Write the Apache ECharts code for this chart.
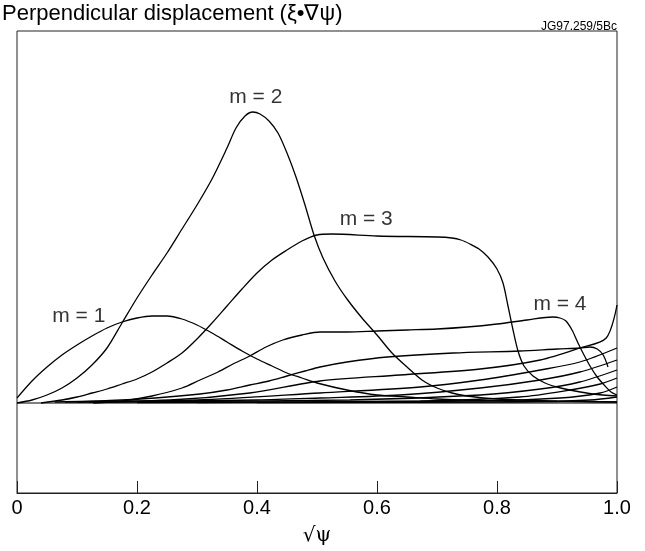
<!DOCTYPE html>
<html>
<head>
<meta charset="utf-8">
<script src="https://cdn.jsdelivr.net/npm/echarts@6/dist/echarts.min.js"></script>
<style>
  html, body { margin: 0; padding: 0; background: #fff; }
  #chart { width: 645px; height: 551px; }
</style>
</head>
<body>
<div id="chart"></div>
<script>
// Poloidal harmonics of the perpendicular displacement vs sqrt(psi)
const m1 = [[0,0.05],[0.025,0.22],[0.05,0.36],[0.075,0.48],[0.1,0.58],[0.125,0.67],[0.15,0.75],[0.175,0.81],[0.2,0.85],[0.225,0.87],[0.25,0.87],[0.275,0.84],[0.3,0.78],[0.325,0.70],[0.35,0.61],[0.375,0.52],[0.4,0.44],[0.425,0.37],[0.45,0.30],[0.475,0.25],[0.5,0.20],[0.55,0.13],[0.6,0.08],[0.65,0.06],[0.7,0.04],[0.8,0.02],[0.9,0.015],[1.0,0.01]];
const m2 = [[0,0],[0.025,0.03],[0.05,0.08],[0.075,0.15],[0.1,0.25],[0.125,0.38],[0.15,0.55],[0.175,0.80],[0.2,1.05],[0.225,1.28],[0.25,1.50],[0.275,1.74],[0.3,1.98],[0.325,2.24],[0.35,2.55],[0.365,2.75],[0.38,2.87],[0.393,2.91],[0.405,2.89],[0.42,2.82],[0.435,2.70],[0.45,2.50],[0.465,2.26],[0.48,1.98],[0.495,1.68],[0.51,1.45],[0.53,1.22],[0.55,1.04],[0.575,0.85],[0.6,0.68],[0.625,0.50],[0.65,0.36],[0.675,0.23],[0.7,0.15],[0.725,0.10],[0.75,0.07],[0.8,0.04],[0.9,0.02],[1.0,0.01]];
const m3 = [[0.04,0],[0.075,0.03],[0.1,0.06],[0.125,0.10],[0.15,0.14],[0.175,0.19],[0.2,0.24],[0.225,0.31],[0.25,0.40],[0.275,0.50],[0.3,0.64],[0.325,0.80],[0.35,0.97],[0.375,1.14],[0.4,1.30],[0.425,1.43],[0.45,1.53],[0.475,1.62],[0.5,1.68],[0.525,1.69],[0.6,1.67],[0.7,1.66],[0.725,1.65],[0.74,1.63],[0.755,1.59],[0.77,1.54],[0.785,1.46],[0.8,1.34],[0.81,1.20],[0.818,0.98],[0.826,0.75],[0.835,0.52],[0.845,0.37],[0.86,0.27],[0.88,0.20],[0.9,0.16],[0.93,0.12],[0.96,0.09],[1.0,0.07]];
const m4 = [[0.127,0],[0.175,0.02],[0.225,0.07],[0.275,0.15],[0.305,0.23],[0.335,0.31],[0.36,0.39],[0.388,0.47],[0.415,0.56],[0.443,0.63],[0.475,0.68],[0.505,0.71],[0.55,0.71],[0.6,0.72],[0.65,0.73],[0.7,0.74],[0.75,0.76],[0.8,0.79],[0.85,0.83],[0.893,0.86],[0.905,0.85],[0.915,0.82],[0.925,0.73],[0.935,0.60],[0.945,0.48],[0.955,0.37],[0.967,0.26],[0.98,0.17],[0.99,0.11],[1.0,0.08]];
const m5 = [[0.063,0.01],[0.155,0.025],[0.23,0.05],[0.305,0.09],[0.35,0.13],[0.388,0.18],[0.42,0.22],[0.45,0.27],[0.48,0.32],[0.505,0.36],[0.55,0.41],[0.617,0.46],[0.727,0.50],[0.838,0.52],[0.9,0.54],[0.938,0.55],[0.955,0.56],[0.967,0.54],[0.977,0.48],[0.985,0.36]];
const m6 = [[0.08,0.01],[0.255,0.03],[0.388,0.10],[0.505,0.22],[0.638,0.28],[0.772,0.34],[0.872,0.43],[0.938,0.55],[0.982,0.65],[1.0,0.98]];
const m7 = [[0.1,0.01],[0.3,0.03],[0.505,0.10],[0.672,0.16],[0.772,0.23],[0.872,0.33],[0.938,0.41],[1.0,0.55]];
const m8 = [[0.12,0.01],[0.4,0.03],[0.505,0.05],[0.638,0.08],[0.772,0.15],[0.872,0.23],[0.938,0.31],[1.0,0.43]];
const m9 = [[0.15,0.01],[0.555,0.03],[0.772,0.08],[0.872,0.14],[0.938,0.21],[1.0,0.33]];
const m10 = [[0.2,0.005],[0.672,0.02],[0.838,0.06],[0.922,0.13],[0.972,0.19],[1.0,0.25]];
const m11 = [[0.3,0.005],[0.772,0.02],[0.905,0.05],[0.972,0.10],[1.0,0.16]];
const m12 = [[0.4,0.005],[0.838,0.01],[0.955,0.03],[1.0,0.06]];
const zeroLine = [[0,0],[1,0]];

const harmonics = [m1, m2, m3, m4, m5, m6, m7, m8, m9, m10, m11, m12];

// Harmonic labels, anchored in data coordinates
const labelText = ['m = 1', 'm = 2', 'm = 3', 'm = 4'];
const labelAt = [[0.103,0.87],[0.398,3.06],[0.582,1.84],[0.905,0.99]];

const xTickLabels = ['0', '0.2', '0.4', '0.6', '0.8', '1.0'];

const chart = echarts.init(document.getElementById('chart'), null, { renderer: 'canvas' });

const lineSeries = harmonics.map((d, i) => ({
  name: 'm' + (i + 1),
  type: 'line',
  data: d,
  smooth: 0.3,
  symbol: 'none',
  silent: true,
  lineStyle: { color: '#000', width: 1.3 },
  z: 3
}));

lineSeries.push({
  type: 'line',
  data: zeroLine,
  symbol: 'none',
  silent: true,
  lineStyle: { color: '#000', width: 1 },
  z: 2
});

lineSeries.push({
  type: 'scatter',
  data: labelAt.map((p, i) => [p[0], p[1], labelText[i]]),
  symbolSize: 0,
  silent: true,
  label: {
    show: true,
    position: 'inside',
    formatter: p => p.value[2],
    color: '#000',
    fontFamily: 'Liberation Sans, Arial, sans-serif',
    fontSize: 21
  },
  z: 5
});

chart.setOption({
  animation: false,
  backgroundColor: '#fff',
  grid: {
    left: 17, right: 28, top: 31, bottom: 58,
    outerBoundsMode: 'none',
    containLabel: false,
    show: true, borderColor: '#222', borderWidth: 1, backgroundColor: 'transparent'
  },
  title: [{
    text: 'Perpendicular displacement (ξ•∇ψ)',
    left: 2, top: 3, padding: 0,
    textStyle: { fontFamily: 'Liberation Sans, Arial, sans-serif', fontSize: 22, fontWeight: 'normal', color: '#000' }
  }, {
    text: 'JG97.259/5Bc',
    right: 28, top: 21, padding: 0,
    textStyle: { fontFamily: 'Liberation Sans, Arial, sans-serif', fontSize: 12, fontWeight: 'normal', color: '#000' }
  }],
  xAxis: {
    type: 'value',
    min: 0, max: 1, interval: 0.2,
    name: '√ψ',
    nameLocation: 'middle',
    nameGap: 33,
    nameTextStyle: { fontFamily: 'DejaVu Serif, Liberation Serif, serif', fontSize: 20, color: '#000' },
    axisLine: { show: true, onZero: false, lineStyle: { color: '#222', width: 1 } },
    axisTick: { show: true, inside: true, length: 12, lineStyle: { color: '#222', width: 1 } },
    axisLabel: {
      margin: 5,
      fontFamily: 'Liberation Sans, Arial, sans-serif',
      fontSize: 20,
      color: '#000',
      formatter: v => xTickLabels[Math.round(v / 0.2)]
    },
    splitLine: { show: false }
  },
  yAxis: {
    type: 'value',
    min: -0.9, max: 3.72,
    show: false,
    splitLine: { show: false }
  },
  series: lineSeries
});
</script>
</body>
</html>
